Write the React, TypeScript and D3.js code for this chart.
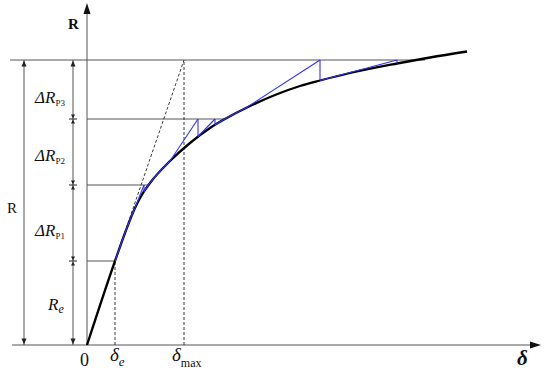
import React from "react";
import * as d3 from "d3";

// Skeleton (backbone) curve: displacement δ vs resistance R (arbitrary units)
const curveDelta = [0, 2.8, 3.8, 4.8, 5.6, 6.3, 8.3, 10.3, 12.3, 13.8, 16.3, 18.8, 21.3, 23.3, 26.3, 31.0, 34.3, 38.0];
const curveR = [0, 8.4, 11.2, 13.7, 15.2, 16.2, 18.4, 20.2, 21.7, 22.6, 23.9, 25.0, 25.9, 26.45, 27.2, 28.15, 28.75, 29.35];

// Resistance levels: Re, Re+ΔRP1, Re+ΔRP1+ΔRP2, R
const levelR = [8.4, 16.0, 22.6, 28.5];
const levelEndDelta = [2.8, 6.2, 13.8, 33.8];
const deltaE = 2.8;
const deltaMax = 9.7;

// Blue saw-tooth (incremental) path
const blueFootDelta = [4.7, 8.3, 11.1, 15.8, 23.3];
const blueFootR = [13.45, 18.4, 20.85, 23.65, 26.45];
const bluePeakDelta = [5.7, 11.1, 12.8, 23.3, 31.0];
const bluePeakR = [16.0, 22.6, 22.6, 28.5, 28.5];
const blueDropR = [15.35, 20.85, 22.0, 26.45, 28.15];
const blueOnCurveFrom = [2.8, 5.7, 12.8];
const blueOnCurveTo = [4.7, 8.3, 15.8];

const levelLabels = ["R_e", "ΔR_P1", "ΔR_P2", "ΔR_P3"];
const labelYs = [310, 236, 161, 103];

const W = 550;
const H = 375;

export default function App() {
  const x = d3.scaleLinear().domain([0, 44]).range([87, 527]);
  const y = d3.scaleLinear().domain([0, 28.5]).range([345, 60]);

  const pts: [number, number][] = curveDelta.map((d, i) => [d, curveR[i]]);
  const line = d3
    .line<[number, number]>()
    .x((d) => x(d[0]))
    .y((d) => y(d[1]))
    .curve(d3.curveMonotoneX);
  const curvePath = line(pts) || "";

  const axisColor = "#555";
  const blue = "#3333ee";
  const font = "'Times New Roman', 'Liberation Serif', Tinos, 'DejaVu Serif', serif";

  const dimX1 = 73;
  const dimX2 = 24;

  const arrowUp = (cx: number, cy: number, s = 3, h = 7) =>
    `M${cx},${cy} L${cx - s},${cy + h} L${cx + s},${cy + h} Z`;
  const arrowDown = (cx: number, cy: number, s = 3, h = 7) =>
    `M${cx},${cy} L${cx - s},${cy - h} L${cx + s},${cy - h} Z`;

  return (
    <svg width={W} height={H} style={{ display: "block", position: "absolute", left: 0, top: 0, background: "#fff" }}>
      <defs>
        <clipPath id="blueClip">
          {blueOnCurveFrom.map((f, i) => (
            <rect key={i} x={x(f)} y={0} width={x(blueOnCurveTo[i]) - x(f)} height={H} />
          ))}
        </clipPath>
      </defs>

      {/* horizontal level lines */}
      {levelR.slice(0, 3).map((r, i) => (
        <line key={i} x1={x(0)} x2={x(levelEndDelta[i])} y1={y(r)} y2={y(r)} stroke={axisColor} strokeWidth={1} />
      ))}
      <line x1={10} x2={x(levelEndDelta[3])} y1={y(levelR[3])} y2={y(levelR[3])} stroke={axisColor} strokeWidth={1} />

      {/* axes */}
      <line x1={12} x2={536} y1={y(0)} y2={y(0)} stroke={axisColor} strokeWidth={1} />
      <path d={`M541,${y(0)} L530,${y(0) - 3.5} L530,${y(0) + 3.5} Z`} fill="#111" />
      <line x1={x(0)} x2={x(0)} y1={y(0)} y2={8} stroke={axisColor} strokeWidth={1} />
      <path d={arrowUp(x(0), 3, 3.5, 11)} fill="#111" />

      {/* dashed helper lines */}
      <line x1={x(deltaE)} x2={x(deltaE)} y1={y(0)} y2={y(levelR[0])} stroke="#222" strokeWidth={0.9} strokeDasharray="3,2" />
      <line x1={x(deltaMax)} x2={x(deltaMax)} y1={y(0)} y2={y(levelR[3])} stroke="#222" strokeWidth={0.9} strokeDasharray="3,2" />
      <line x1={x(deltaE)} x2={x(deltaMax)} y1={y(levelR[0])} y2={y(levelR[3])} stroke="#222" strokeWidth={0.9} strokeDasharray="3,2" />

      {/* backbone curve */}
      <path d={curvePath} fill="none" stroke="#000" strokeWidth={2.3} />

      {/* blue incremental path */}
      <path d={curvePath} fill="none" stroke={blue} strokeWidth={1.2} clipPath="url(#blueClip)" />
      {bluePeakDelta.map((pd, i) => (
        <g key={i}>
          <line x1={x(blueFootDelta[i])} y1={y(blueFootR[i])} x2={x(pd)} y2={y(bluePeakR[i])} stroke={blue} strokeWidth={1.1} />
          <line x1={x(pd)} y1={y(bluePeakR[i])} x2={x(pd)} y2={y(blueDropR[i])} stroke={blue} strokeWidth={1.1} />
        </g>
      ))}

      {/* dimension line (inner) */}
      <line x1={dimX1} x2={dimX1} y1={y(levelR[3])} y2={y(0)} stroke={axisColor} strokeWidth={1} />
      <path d={arrowUp(dimX1, y(levelR[3]) + 0.5, 2.5, 6)} fill="#222" />
      <path d={arrowDown(dimX1, y(0) - 0.5, 2.5, 6)} fill="#222" />
      {levelR.slice(0, 3).map((r, i) => (
        <g key={i}>
          <line x1={dimX1 - 4} x2={dimX1 + 4} y1={y(r)} y2={y(r)} stroke="#222" strokeWidth={1} />
          <path d={arrowDown(dimX1, y(r) - 0.5, 2, 4)} fill="#222" />
          <path d={arrowUp(dimX1, y(r) + 0.5, 2, 4)} fill="#222" />
        </g>
      ))}

      {/* dimension line (outer) */}
      <line x1={dimX2} x2={dimX2} y1={y(levelR[3])} y2={y(0)} stroke={axisColor} strokeWidth={1} />
      <path d={arrowUp(dimX2, y(levelR[3]) + 0.5, 2.5, 6)} fill="#222" />
      <path d={arrowDown(dimX2, y(0) - 0.5, 2.5, 6)} fill="#222" />

      {/* labels */}
      <g style={{ fontFamily: font }} fill="#111">
        {levelLabels.map((lab, i) => {
          const [main, sub] = lab.split("_");
          const isDelta = main.startsWith("Δ");
          return (
            <text key={i} x={isDelta ? 35 : 48} y={labelYs[i]} fontSize={17}>
              {isDelta ? <tspan fontStyle="italic">Δ</tspan> : null}
              <tspan fontStyle="italic">R</tspan>
              <tspan fontSize={isDelta ? 9 : 12} dy={3} fontStyle={isDelta ? "normal" : "italic"}>
                {sub}
              </tspan>
            </text>
          );
        })}
        <text x={7} y={213} fontSize={15}>R</text>
        <text x={68} y={29} fontSize={15} fontWeight="bold">R</text>
        <text x={80} y={366} fontSize={18}>0</text>
        <text x={x(deltaE) - 5} y={361} fontSize={19} fontStyle="italic">
          δ<tspan fontSize={13} dy={5}>e</tspan>
        </text>
        <text x={x(deltaMax) - 12} y={361} fontSize={19} fontStyle="italic">
          δ<tspan fontSize={12} dy={6} fontStyle="normal">max</tspan>
        </text>
        <text x={517} y={365} fontSize={21} fontStyle="italic" fontWeight="bold">δ</text>
      </g>
    </svg>
  );
}
